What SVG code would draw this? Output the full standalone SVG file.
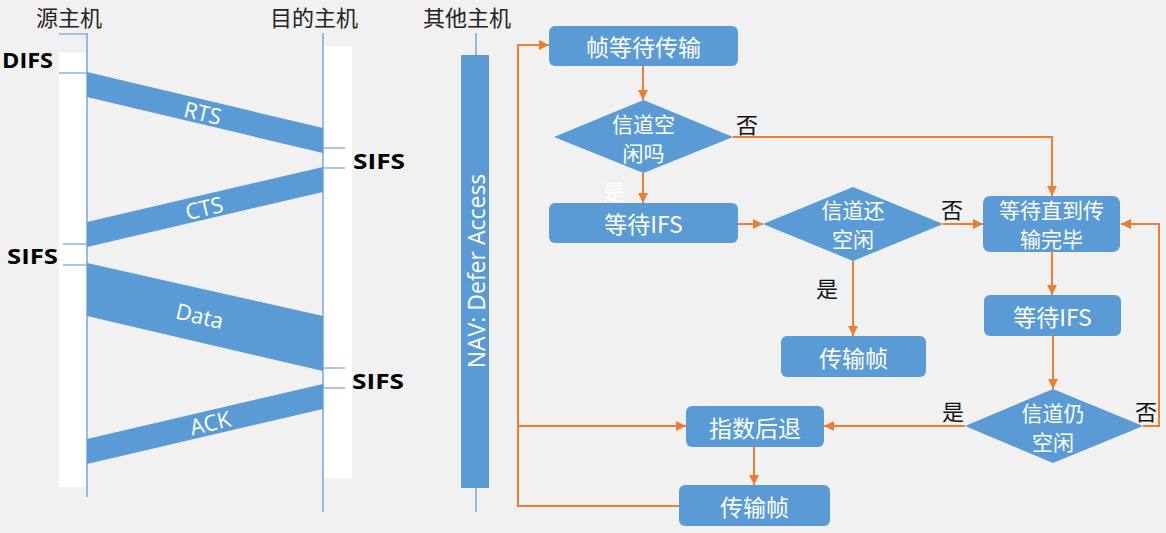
<svg xmlns="http://www.w3.org/2000/svg" width="1166" height="533" viewBox="0 0 1166 533">
<style>
.host{fill:#222;font-family:"Noto Sans CJK SC",sans-serif;font-size:22px;dominant-baseline:central}
.ifs{fill:#000;font-family:"Open Sans","Noto Sans",sans-serif;font-weight:bold;font-size:22px;dominant-baseline:central}
.life{stroke:#6aa3d6;stroke-width:1.4;fill:none}
.tick{stroke:#7fb0dc;stroke-width:1.4}
.band{fill:#5b9bd5}
.bl{fill:#fff;font-family:"Open Sans","Noto Sans",sans-serif;font-size:22px;text-anchor:middle;dominant-baseline:central}
.box{fill:#5b9bd5}
.bt{fill:#fff;font-family:"Noto Sans CJK SC",sans-serif;font-size:23px;text-anchor:middle;dominant-baseline:central}
.bt2{fill:#fff;font-family:"Noto Sans CJK SC",sans-serif;font-size:21px;text-anchor:middle;dominant-baseline:central}
.yn{fill:#111;font-family:"Noto Sans CJK SC",sans-serif;font-size:22px;text-anchor:middle;dominant-baseline:central}
.conn{stroke:#ed7d31;stroke-width:2;fill:none}
</style>
<defs>
<marker id="arr" viewBox="0 0 10 10" refX="10" refY="5" markerWidth="10" markerHeight="10" markerUnits="userSpaceOnUse" orient="auto">
<path d="M0,0 L10,5 L0,10 z" fill="#ed7d31"/>
</marker>
</defs>
<rect width="1166" height="533" fill="#f1f1f1"/>

<g id="source-host">
<text class="host" x="36" y="16">源主机</text>
<rect x="59" y="53" width="28" height="434" fill="#fff"/>
<line class="life" x1="87" y1="33" x2="87" y2="497"/>
<line class="tick" x1="59" y1="34" x2="87" y2="34"/>
<line class="tick" x1="59" y1="73" x2="87" y2="73"/>
<line class="tick" x1="63" y1="244" x2="87" y2="244"/>
<line class="tick" x1="63" y1="265" x2="87" y2="265"/>
<text class="ifs" x="2" y="59" textLength="51" lengthAdjust="spacingAndGlyphs">DIFS</text>
<text class="ifs" x="7" y="255" textLength="51" lengthAdjust="spacingAndGlyphs">SIFS</text>
</g>

<g id="dest-host">
<text class="host" x="270" y="16">目的主机</text>
<rect x="323" y="46" width="29" height="432" fill="#fff"/>
<line class="life" x1="323" y1="33" x2="323" y2="512"/>
<line class="tick" x1="323" y1="148" x2="345" y2="148"/>
<line class="tick" x1="323" y1="168" x2="345" y2="168"/>
<line class="tick" x1="323" y1="368" x2="345" y2="368"/>
<line class="tick" x1="323" y1="388" x2="345" y2="388"/>
<text class="ifs" x="353" y="160" textLength="52" lengthAdjust="spacingAndGlyphs">SIFS</text>
<text class="ifs" x="352" y="380" textLength="52" lengthAdjust="spacingAndGlyphs">SIFS</text>
</g>

<g id="frames">
<polygon class="band" points="87,72 323,128 323,153 87,97"/>
<text class="bl" transform="translate(203,112) rotate(13.3)">RTS</text>
<polygon class="band" points="323,167 323,192 87,247 87,222"/>
<text class="bl" transform="translate(204,207) rotate(-13.3)">CTS</text>
<polygon class="band" points="87,263 323,316 323,371 87,316"/>
<text class="bl" transform="translate(200,315) rotate(13)">Data</text>
<polygon class="band" points="323,384 323,409 87,464 87,439"/>
<text class="bl" transform="translate(210,422) rotate(-13.3)">ACK</text>
</g>

<g id="other-host">
<text class="host" x="423" y="16">其他主机</text>
<line class="life" x1="476" y1="33" x2="476" y2="55"/>
<line class="life" x1="476" y1="488" x2="476" y2="512"/>
<rect x="461" y="55" width="28" height="433" fill="#5b9bd5"/>
<text class="bl" style="font-size:23px" transform="translate(476,271) rotate(-90)">NAV: Defer Access</text>
</g>

<g id="connectors">
<line class="conn" x1="643" y1="66" x2="643" y2="100" marker-end="url(#arr)"/>
<polyline class="conn" points="733,137 1052,137 1052,196" marker-end="url(#arr)"/>
<line class="conn" x1="643" y1="173" x2="643" y2="203" marker-end="url(#arr)"/>
<line class="conn" x1="738" y1="224" x2="763" y2="224" marker-end="url(#arr)"/>
<line class="conn" x1="943" y1="224" x2="983" y2="224" marker-end="url(#arr)"/>
<line class="conn" x1="853" y1="261" x2="853" y2="336" marker-end="url(#arr)"/>
<line class="conn" x1="1052" y1="252" x2="1052" y2="295" marker-end="url(#arr)"/>
<line class="conn" x1="1053" y1="336" x2="1053" y2="389" marker-end="url(#arr)"/>
<polyline class="conn" points="1143,426 1159,426 1159,224 1121,224" marker-end="url(#arr)"/>
<line class="conn" x1="965" y1="426" x2="824" y2="426" marker-end="url(#arr)"/>
<line class="conn" x1="754" y1="447" x2="754" y2="485" marker-end="url(#arr)"/>
<polyline class="conn" points="679,506 518,506 518,45 549,45" marker-end="url(#arr)"/>
<line class="conn" x1="518" y1="426" x2="686" y2="426" marker-end="url(#arr)"/>
<text class="yn" x="747" y="123">否</text>
<text class="yn" x="614" y="190" style="fill:#fff">是</text>
<text class="yn" x="952" y="208">否</text>
<text class="yn" x="827" y="287">是</text>
<text class="yn" x="953" y="410">是</text>
<text class="yn" x="1146" y="410">否</text>
</g>

<g id="n-wait-frame">
<rect class="box" x="549" y="26" width="189" height="40" rx="6"/>
<text class="bt" x="643.5" y="46">帧等待传输</text>
</g>
<g id="n-idle1">
<polygon class="box" points="554,137 643.5,100 733,137 643.5,173"/>
<text class="bt2" x="643.5" y="123">信道空</text>
<text class="bt2" x="643.5" y="152">闲吗</text>
</g>
<g id="n-wait-ifs1">
<rect class="box" x="549" y="203" width="189" height="40" rx="6"/>
<text class="bt" x="643.5" y="223">等待IFS</text>
</g>
<g id="n-idle2">
<polygon class="box" points="763,224 853,187 943,224 853,261"/>
<text class="bt2" x="853" y="209">信道还</text>
<text class="bt2" x="853" y="238">空闲</text>
</g>
<g id="n-wait-done">
<rect class="box" x="983" y="196" width="137" height="56" rx="7"/>
<text class="bt2" x="1051.5" y="209">等待直到传</text>
<text class="bt2" x="1051.5" y="238">输完毕</text>
</g>
<g id="n-send1">
<rect class="box" x="781" y="336" width="145" height="41" rx="6"/>
<text class="bt" x="853.5" y="356.5">传输帧</text>
</g>
<g id="n-wait-ifs2">
<rect class="box" x="984" y="295" width="137" height="41" rx="6"/>
<text class="bt" x="1052.5" y="315.5">等待IFS</text>
</g>
<g id="n-idle3">
<polygon class="box" points="965,426 1053,389 1143,426 1053,463"/>
<text class="bt2" x="1053" y="412">信道仍</text>
<text class="bt2" x="1053" y="441">空闲</text>
</g>
<g id="n-backoff">
<rect class="box" x="686" y="406" width="138" height="41" rx="6"/>
<text class="bt" x="755" y="426.5">指数后退</text>
</g>
<g id="n-send2">
<rect class="box" x="679" y="485" width="151" height="41" rx="6"/>
<text class="bt" x="754.5" y="505.5">传输帧</text>
</g>
</svg>
